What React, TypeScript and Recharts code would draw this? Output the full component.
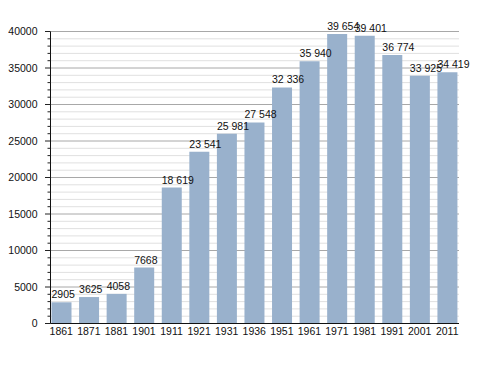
import { Bar, BarChart, CartesianGrid, LabelList, XAxis, YAxis } from "recharts";

const years = [
  "1861", "1871", "1881", "1901", "1911", "1921", "1931", "1936",
  "1951", "1961", "1971", "1981", "1991", "2001", "2011",
];
const population = [
  2905, 3625, 4058, 7668, 18619, 23541, 25981, 27548,
  32336, 35940, 39654, 39401, 36774, 33925, 34419,
];
const majorTicks = [0, 5000, 10000, 15000, 20000, 25000, 30000, 35000, 40000];
const minorStep = 1000;

const data = years.map((year, i) => ({ year, population: population[i] }));
const allTicks = Array.from({ length: 40000 / minorStep + 1 }, (_, i) => i * minorStep);
const minorTicks = allTicks.filter((t) => !majorTicks.includes(t));

const font = "'Liberation Sans', Arial, sans-serif";

// thousands separated by a space, but only from 10 000 up
const fmt = (v: number) =>
  v >= 10000 ? `${Math.floor(v / 1000)} ${String(v % 1000).padStart(3, "0")}` : String(v);

const YTick = (props: any) => {
  const { x, y, payload } = props;
  const major = majorTicks.includes(payload.value);
  return (
    <g>
      <line x1={x - (major ? 5.5 : 3)} x2={x} y1={y} y2={y} stroke="#222" />
      {major && (
        <text x={x - 13} y={y} dy="0.36em" textAnchor="end" fontSize={10.5} fontFamily={font} fill="#111">
          {payload.value}
        </text>
      )}
    </g>
  );
};

const ValueLabel = (props: any) => {
  const { x, y, value } = props;
  return (
    <text x={x} y={y - 4} fontSize={10.5} fontFamily={font} fill="#111">
      {fmt(value)}
    </text>
  );
};

const App = () => {
  return (
    <BarChart
      width={480}
      height={365}
      data={data}
      margin={{ top: 23.5, right: 29, bottom: 19.5, left: 0 }}
    >
      <CartesianGrid vertical={false} horizontalValues={minorTicks} stroke="#e0e0e0" />
      <CartesianGrid vertical={false} horizontalValues={majorTicks} stroke="#a8a8a8" />
      <XAxis
        dataKey="year"
        height={30}
        tickLine={false}
        tickSize={0}
        tickMargin={4}
        padding={{ left: -3, right: -2 }}
        axisLine={{ stroke: "#111" }}
        tick={{ fontSize: 10.5, fontFamily: font, fill: "#111" }}
        interval={0}
      />
      <YAxis
        width={42.5}
        domain={[0, 40000]}
        ticks={allTicks}
        interval={0}
        tickLine={false}
        tickSize={0}
        tickMargin={0}
        axisLine={{ stroke: "#111" }}
        tick={<YTick />}
      />
      <Bar dataKey="population" fill="#99b1cc" barSize={20} isAnimationActive={false}>
        <LabelList dataKey="population" content={<ValueLabel />} />
      </Bar>
    </BarChart>
  );
};

export default App;
